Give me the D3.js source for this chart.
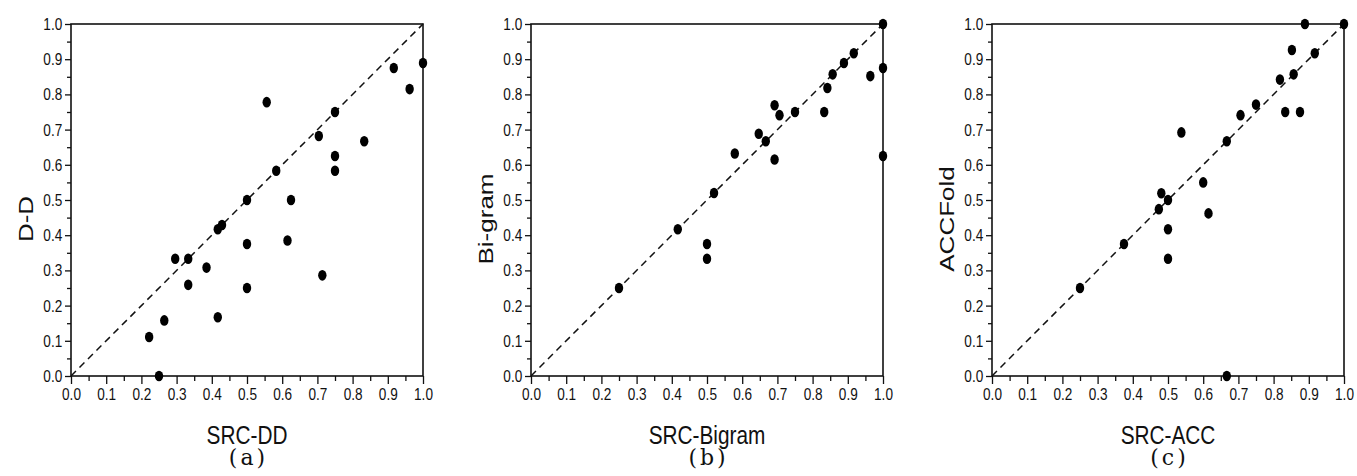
<!DOCTYPE html>
<html>
<head>
<meta charset="utf-8">
<script src="https://cdn.jsdelivr.net/npm/d3@7"></script>
<style>
  body { margin: 0; background: #fff; }
  .tick-label { font-family: "Liberation Sans", Arial, sans-serif; font-size: 17px; fill: #111; }
  .axis-title { font-family: "Liberation Sans", Arial, sans-serif; font-size: 26px; fill: #111; }
  .panel-label { font-family: "DejaVu Serif", "Liberation Serif", serif; font-size: 22px; fill: #111; }
</style>
</head>
<body>
<div id="chart"></div>
<script>
// tick values shared by every panel
const majorTicks = [0, 0.1, 0.2, 0.3, 0.4, 0.5, 0.6, 0.7, 0.8, 0.9, 1.0];
const minorTicks = [0.05, 0.15, 0.25, 0.35, 0.45, 0.55, 0.65, 0.75, 0.85, 0.95];

// panel (a): SRC-DD vs D-D
const ddX = [0.917, 1.0, 0.962, 0.556, 0.75, 0.704, 0.833, 0.75, 0.75, 0.583, 0.5, 0.625,
             0.417, 0.429, 0.5, 0.615, 0.296, 0.333, 0.385, 0.333, 0.5, 0.714, 0.265, 0.417, 0.222, 0.25];
const ddY = [0.875, 0.889, 0.815, 0.778, 0.75, 0.682, 0.667, 0.625, 0.583, 0.583, 0.5, 0.5,
             0.417, 0.429, 0.375, 0.385, 0.333, 0.333, 0.308, 0.259, 0.25, 0.286, 0.158, 0.167, 0.111, 0.0];

// panel (b): SRC-Bigram vs Bi-gram
const bigramX = [1.0, 0.917, 0.889, 0.857, 0.842, 1.0, 0.964, 0.833, 0.75, 0.692, 0.706,
                 0.647, 0.667, 0.579, 0.692, 1.0, 0.52, 0.417, 0.5, 0.5, 0.25];
const bigramY = [1.0, 0.917, 0.889, 0.857, 0.818, 0.875, 0.852, 0.75, 0.75, 0.769, 0.741,
                 0.688, 0.667, 0.632, 0.615, 0.625, 0.52, 0.417, 0.375, 0.333, 0.25];

// panel (c): SRC-ACC vs ACCFold
const accX = [0.889, 1.0, 0.852, 0.917, 0.857, 0.818, 0.833, 0.875, 0.75, 0.706, 0.667, 0.538,
              0.6, 0.481, 0.5, 0.474, 0.615, 0.5, 0.5, 0.375, 0.25, 0.667];
const accY = [1.0, 1.0, 0.926, 0.917, 0.857, 0.842, 0.75, 0.75, 0.771, 0.741, 0.667, 0.692,
              0.55, 0.519, 0.5, 0.474, 0.462, 0.417, 0.333, 0.375, 0.25, 0.0];

const panels = [
  { left: 71,  xs: ddX,     ys: ddY,     xTitle: "SRC-DD",     yTitle: "D-D",     tag: "(a)" },
  { left: 531, xs: bigramX, ys: bigramY, xTitle: "SRC-Bigram", yTitle: "Bi-gram", tag: "(b)" },
  { left: 992, xs: accX,    ys: accY,    xTitle: "SRC-ACC",    yTitle: "ACCFold", tag: "(c)" }
];

const width = 1357;
const height = 476;
const plotTop = 24;
const size = 352;
const squash = 0.8; // the original figure is narrower than tall

const svg = d3.select("#chart")
  .append("svg")
  .attr("width", width)
  .attr("height", height);

panels.forEach(p => {
  const g = svg.append("g").attr("transform", `translate(${p.left},${plotTop})`);

  const x = d3.scaleLinear().domain([0, 1]).range([0, size]);
  const y = d3.scaleLinear().domain([0, 1]).range([size, 0]);

  // minor ticks first, then major axis with labels
  g.append("g")
    .attr("transform", `translate(0,${size})`)
    .call(d3.axisBottom(x).tickValues(minorTicks).tickSize(5).tickFormat(""))
    .call(a => a.select(".domain").remove());
  g.append("g")
    .call(d3.axisLeft(y).tickValues(minorTicks).tickSize(4).tickFormat(""))
    .call(a => a.select(".domain").remove());

  const xAxis = g.append("g")
    .attr("transform", `translate(0,${size})`)
    .call(d3.axisBottom(x).tickValues(majorTicks).tickSize(8).tickPadding(4).tickFormat(d3.format(".1f")));
  const yAxis = g.append("g")
    .call(d3.axisLeft(y).tickValues(majorTicks).tickSize(6).tickPadding(5).tickFormat(d3.format(".1f")));

  [xAxis, yAxis].forEach(a => {
    a.selectAll("text")
      .attr("class", "tick-label")
      .attr("transform", `scale(${squash},1)`);
    a.attr("font-size", null).attr("font-family", null);
    a.select(".domain").remove();
  });
  g.selectAll(".tick line").attr("stroke", "#111").attr("stroke-width", 1.3);

  // frame
  g.append("rect")
    .attr("x", 0).attr("y", 0)
    .attr("width", size).attr("height", size)
    .attr("fill", "none")
    .attr("stroke", "#111")
    .attr("stroke-width", 1.6);

  // diagonal reference line
  g.append("line")
    .attr("x1", x(0)).attr("y1", y(0))
    .attr("x2", x(1)).attr("y2", y(1))
    .attr("stroke", "#111")
    .attr("stroke-width", 1.5)
    .attr("stroke-dasharray", "7,5");

  // data points
  g.selectAll(".dot")
    .data(p.xs.map((v, i) => [v, p.ys[i]]))
    .enter()
    .append("ellipse")
    .attr("class", "dot")
    .attr("cx", d => x(d[0]))
    .attr("cy", d => y(d[1]))
    .attr("rx", 4.2)
    .attr("ry", 5.3)
    .attr("fill", "#000");

  // axis titles
  g.append("text")
    .attr("class", "axis-title")
    .attr("transform", `translate(${size / 2},${size + 68}) scale(${squash},1)`)
    .attr("text-anchor", "middle")
    .text(p.xTitle);

  g.append("text")
    .attr("class", "axis-title")
    .attr("transform", `translate(-38,195) rotate(-90) scale(1,${squash})`)
    .attr("text-anchor", "middle")
    .text(p.yTitle);

  g.append("text")
    .attr("class", "panel-label")
    .attr("x", size / 2 + 1.5)
    .attr("y", size + 89)
    .attr("text-anchor", "middle")
    .style("letter-spacing", "3px")
    .text(p.tag);
});
</script>
</body>
</html>
